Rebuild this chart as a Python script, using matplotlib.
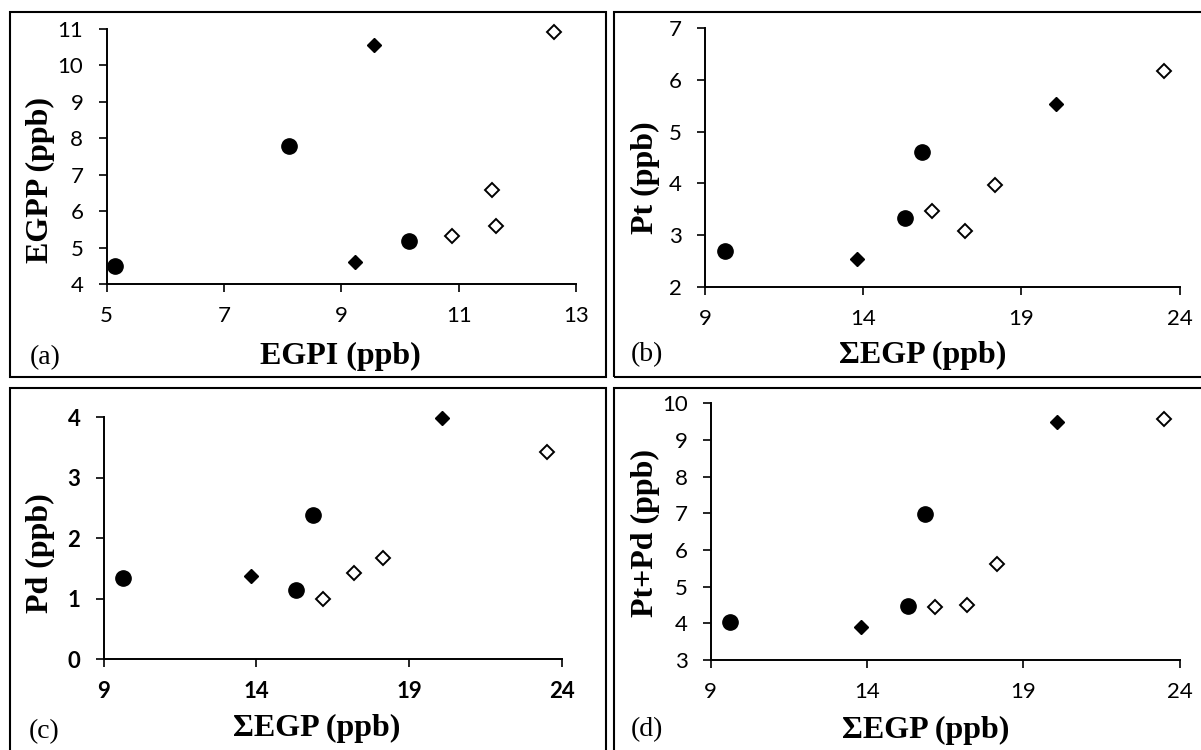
import matplotlib.pyplot as plt
from matplotlib.patches import Rectangle

# Sample groups: circles, filled diamonds, open diamonds
# EGPI / EGPP values (panel a)
circle_egpi = [5.14, 8.10, 10.16]
circle_egpp = [4.50, 7.78, 5.17]
fdiam_egpi = [9.23, 9.55]
fdiam_egpp = [4.60, 10.56]
odiam_egpi = [10.88, 11.64, 11.57, 12.62]
odiam_egpp = [5.33, 5.58, 6.58, 10.91]

# Sum of EGP (x axis for panels b, c, d)
circle_sum = [9.63, 15.85, 15.30]
fdiam_sum = [13.81, 20.09]
odiam_sum = [16.17, 17.20, 18.15, 23.50]

# Pt, Pd and Pt+Pd
circle_pt = [2.70, 4.60, 3.32]
fdiam_pt = [2.54, 5.53]
odiam_pt = [3.46, 3.08, 3.97, 6.17]

circle_pd = [1.34, 2.38, 1.15]
fdiam_pd = [1.37, 3.99]
odiam_pd = [0.99, 1.43, 1.67, 3.42]

circle_ptpd = [4.03, 6.97, 4.48]
fdiam_ptpd = [3.89, 9.50]
odiam_ptpd = [4.44, 4.49, 5.63, 9.56]

W, H = 1201, 750
fig = plt.figure(figsize=(W / 100, H / 100), dpi=100)

serif = "Liberation Serif"
tickfont = "Lato"


def px_axes(x0, x1, y0, y1):
    # pixel box (top-left origin) -> figure axes
    return fig.add_axes([x0 / W, 1 - y1 / H, (x1 - x0) / W, (y1 - y0) / H])


def draw_panel(ax, xs, ys, xlim, ylim, xticks, yticks, bold_ticks=False):
    cx, fx, ox = xs
    cy, fy, oy = ys
    ax.plot(cx, cy, "o", color="black", ms=11, ls="none", clip_on=False)
    ax.plot(fx, fy, "D", color="black", ms=7.6, ls="none", clip_on=False)
    ax.plot(ox, oy, "D", mfc="white", mec="black", mew=1.4, ms=7.4, ls="none", clip_on=False)
    ax.set_xlim(xlim)
    ax.set_ylim(ylim)
    ax.set_xticks(xticks)
    ax.set_yticks(yticks)
    for s in ["top", "right"]:
        ax.spines[s].set_visible(False)
    for s in ["left", "bottom"]:
        ax.spines[s].set_linewidth(1.4)
    ax.tick_params(axis="both", direction="out", length=5.8, width=1.2, labelsize=16)
    ax.tick_params(axis="x", pad=10)
    ax.tick_params(axis="y", pad=11)
    for lab in ax.get_xticklabels() + ax.get_yticklabels():
        lab.set_fontfamily(tickfont)
        if bold_ticks:
            lab.set_fontweight("bold")


# (a) EGPP vs EGPI
ax_a = px_axes(106.7, 576, 29, 284)
draw_panel(ax_a, (circle_egpi, fdiam_egpi, odiam_egpi), (circle_egpp, fdiam_egpp, odiam_egpp),
           (5, 13), (4, 11), [5, 7, 9, 11, 13], range(4, 12))

# (b) Pt vs sum EGP
ax_b = px_axes(705.3, 1179.6, 28.3, 286.7)
draw_panel(ax_b, (circle_sum, fdiam_sum, odiam_sum), (circle_pt, fdiam_pt, odiam_pt),
           (9, 24), (2, 7), [9, 14, 19, 24], range(2, 8))

# (c) Pd vs sum EGP
ax_c = px_axes(103.7, 561.8, 417.3, 659)
draw_panel(ax_c, (circle_sum, fdiam_sum, odiam_sum), (circle_pd, fdiam_pd, odiam_pd),
           (9, 24), (0, 4), [9, 14, 19, 24], range(0, 5), bold_ticks=True)

# (d) Pt+Pd vs sum EGP
ax_d = px_axes(710.8, 1179.6, 403.3, 660)
draw_panel(ax_d, (circle_sum, fdiam_sum, odiam_sum), (circle_ptpd, fdiam_ptpd, odiam_ptpd),
           (9, 24), (3, 10), [9, 14, 19, 24], range(3, 11))


def ftext(x, y, s, **kw):
    fig.text(x / W, 1 - y / H, s, family=serif, **kw)


# axis titles
ftext(340, 356, "EGPI (ppb)", fontsize=23, weight="bold", ha="center", va="center")
ftext(923, 355, "ΣEGP (ppb)", fontsize=23, weight="bold", ha="center", va="center")
ftext(317, 728, "ΣEGP (ppb)", fontsize=23, weight="bold", ha="center", va="center")
ftext(926, 730, "ΣEGP (ppb)", fontsize=23, weight="bold", ha="center", va="center")

ftext(40, 180, "EGPP (ppb)", fontsize=23, weight="bold", ha="center", va="center", rotation=90)
ftext(645, 178, "Pt (ppb)", fontsize=23, weight="bold", ha="center", va="center", rotation=90)
ftext(40, 553, "Pd (ppb)", fontsize=23, weight="bold", ha="center", va="center", rotation=90)
ftext(645, 533, "Pt+Pd (ppb)", fontsize=23, weight="bold", ha="center", va="center", rotation=90)

# panel letters
ftext(30, 358, "(a)", fontsize=20, ha="left", va="center")
ftext(631, 355, "(b)", fontsize=20, ha="left", va="center")
ftext(29, 732, "(c)", fontsize=20, ha="left", va="center")
ftext(631, 730, "(d)", fontsize=20, ha="left", va="center")

# frames around each panel
boxes = [(10, 12, 605.7, 376.7), (614, 12, 1210, 376.7),
         (10, 387.5, 605.7, 760), (614, 387.5, 1210, 760)]
for x0, y0, x1, y1 in boxes:
    fig.patches.append(Rectangle((x0 / W, 1 - y1 / H), (x1 - x0) / W, (y1 - y0) / H,
                                 transform=fig.transFigure, fill=False,
                                 edgecolor="black", linewidth=1.5))

fig.savefig("out.png", dpi=100)
